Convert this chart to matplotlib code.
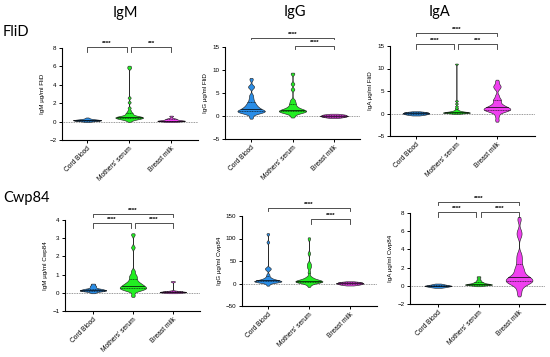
import numpy as np
import matplotlib.pyplot as plt

# ---------------------------------------------------------------------- data
groups = ["Cord Blood", "Mothers' serum", "Breast milk"]
colors = ["#2a8de6", "#22ee22", "#f040f0"]

# estimated sample values per group
igm_flid_cord = [0.0, 0.05, 0.08, 0.1, 0.1, 0.12, 0.12, 0.15, 0.15, 0.18, 0.2, 0.2, 0.22, 0.25, 0.3, 0.4]
igm_flid_moth = [0.05, 0.2, 0.25, 0.3, 0.3, 0.35, 0.4, 0.4, 0.4, 0.45, 0.5, 0.5, 0.5, 0.55, 0.6, 0.6,
                 0.7, 0.8, 0.9, 1.0, 1.2, 1.5, 2.1, 2.6, 5.8, 6.0]
igm_flid_milk = [0.0, 0.02, 0.05, 0.05, 0.08, 0.1, 0.1, 0.12, 0.15, 0.2, 0.25, 0.3, 0.35, 0.6]

igg_flid_cord = [-0.3, 0.5, 0.7, 0.8, 0.9, 1.0, 1.0, 1.1, 1.2, 1.3, 1.5, 1.6, 1.8, 2.0, 2.2, 2.5,
                 2.8, 3.2, 3.8, 4.5, 6.2, 6.5, 8.0]
igg_flid_moth = [-0.1, 0.5, 0.6, 0.8, 0.9, 1.0, 1.0, 1.1, 1.2, 1.3, 1.4, 1.5, 1.7, 1.9, 2.2, 2.6,
                 3.0, 3.5, 5.8, 7.0, 9.2]
igg_flid_milk = [-0.35, -0.25, -0.15, -0.05, 0.0, 0.05, 0.15, 0.25, 0.3, 0.4]

iga_flid_cord = [-0.35, -0.25, -0.15, -0.05, 0.0, 0.05, 0.15, 0.25, 0.3, 0.4]
iga_flid_moth = [0.0, 0.1, 0.1, 0.15, 0.2, 0.2, 0.2, 0.25, 0.3, 0.3, 0.35, 0.4, 0.5, 0.6, 0.8,
                 1.2, 1.6, 2.2, 2.8, 11.0]
iga_flid_milk = [-1.5, -0.5, 0.3, 0.5, 0.6, 0.8, 0.9, 1.0, 1.0, 1.1, 1.2, 1.4, 1.6, 1.8, 2.0, 2.5,
                 3.0, 3.2, 4.0, 5.5, 6.0, 6.3, 7.2]

igm_cwp_cord = [0.0, 0.05, 0.08, 0.1, 0.1, 0.12, 0.12, 0.15, 0.15, 0.15, 0.18, 0.2, 0.2, 0.22,
                0.25, 0.3, 0.35, 0.4, 0.48]
igm_cwp_moth = [-0.15, 0.1, 0.15, 0.2, 0.2, 0.25, 0.25, 0.3, 0.3, 0.35, 0.4, 0.4, 0.45, 0.5, 0.55,
                0.6, 0.7, 0.8, 0.9, 1.0, 1.2, 2.5, 3.2]
igm_cwp_milk = [0.0, 0.01, 0.02, 0.03, 0.05, 0.05, 0.06, 0.08, 0.1, 0.62]

igg_cwp_cord = [-3, 2, 3, 3, 4, 4, 5, 5, 5, 6, 6, 7, 8, 9, 10, 12, 15, 20, 30, 33, 35, 92, 110]
igg_cwp_moth = [-5, 2, 2, 3, 3, 4, 4, 5, 5, 6, 6, 7, 8, 10, 12, 15, 25, 35, 40, 45, 67, 100]
igg_cwp_milk = [-3.5, -2.5, -1.5, -0.5, 0.0, 0.5, 1.5, 2.5, 3, 4]

iga_cwp_cord = [-0.17, -0.12, -0.07, -0.02, 0.0, 0.02, 0.07, 0.12, 0.2]
iga_cwp_moth = [0.0, 0.05, 0.08, 0.1, 0.12, 0.15, 0.15, 0.18, 0.2, 0.2, 0.25, 0.3, 0.35, 0.4,
                0.5, 0.6, 0.8, 1.0]
iga_cwp_milk = [-0.9, -0.3, 0.2, 0.3, 0.4, 0.5, 0.5, 0.6, 0.7, 0.8, 0.9, 1.0, 1.2, 1.5, 1.8, 2.0,
                2.5, 3.0, 3.5, 5.5, 6.0, 7.3]

ylabels = ["IgM µg/ml FliD", "IgG µg/ml FliD", "IgA µg/ml FliD",
           "IgM µg/ml Cwp84", "IgG µg/ml Cwp84", "IgA µg/ml Cwp84"]
yticks = [[-2, 0, 2, 4, 6, 8], [-5, 0, 5, 10, 15], [-5, 0, 5, 10, 15],
          [-1, 0, 1, 2, 3, 4], [-50, 0, 50, 100, 150], [-2, 0, 2, 4, 6, 8]]
# significance: (group a, group b, stars)
sig = [[(1, 2, "****"), (2, 3, "***")],
       [(1, 3, "****"), (2, 3, "****")],
       [(1, 3, "****"), (1, 2, "****"), (2, 3, "***")],
       [(1, 3, "****"), (1, 2, "****"), (2, 3, "****")],
       [(1, 3, "****"), (2, 3, "****")],
       [(1, 3, "****"), (1, 2, "****"), (2, 3, "****")]]

panels = [
    [igm_flid_cord, igm_flid_moth, igm_flid_milk],
    [igg_flid_cord, igg_flid_moth, igg_flid_milk],
    [iga_flid_cord, iga_flid_moth, iga_flid_milk],
    [igm_cwp_cord, igm_cwp_moth, igm_cwp_milk],
    [igg_cwp_cord, igg_cwp_moth, igg_cwp_milk],
    [iga_cwp_cord, iga_cwp_moth, iga_cwp_milk],
]

# ---------------------------------------------------------------------- layout
W, H = 550, 357
# left, top, right, bottom in pixels, plus xlim
boxes = [(62, 48, 198, 140, (0.40, 3.64)),
         (225, 47, 360, 139, (0.37, 3.63)),
         (390, 46, 535, 136, (0.36, 3.94)),
         (65, 220, 200, 311, (0.30, 3.68)),
         (242, 216, 377, 306, (0.37, 3.66)),
         (410, 213, 545, 304, (0.31, 3.64))]
# bracket levels in data units: (low level, high level, drop)
brackets = [(8.1, None, 0.5),
            (15.2, 17.0, 0.6),
            (15.4, 17.9, 1.1),
            (3.84, 4.33, 0.28),
            (143, 168, 11),
            (8.1, 9.2, 0.55)]

TICK_FONT = ["Liberation Sans", "DejaVu Sans"]


def kde_profile(vals, span):
    v = np.asarray(vals, float)
    n = len(v)
    sd = v.std(ddof=1)
    q75, q25 = np.percentile(v, [75, 25])
    iqr = q75 - q25
    s = min(sd, iqr / 1.34) if iqr > 0 else sd
    bw = max(0.5 * 0.9 * s * n ** -0.2, span * 0.006)
    grid = np.linspace(v.min() - 0.8 * bw, v.max() + 0.8 * bw, 900)
    dens = np.exp(-0.5 * ((grid[:, None] - v[None, :]) / bw) ** 2).sum(1)
    dens = dens / dens.max()
    # taper the ends to a point
    dens[0] = dens[-1] = 0
    return grid, dens


fig = plt.figure(figsize=(W / 100, H / 100), dpi=100)

for i, (data, box) in enumerate(zip(panels, boxes)):
    l, t, r, b, xl = box
    ax = fig.add_axes([l / W, (H - b) / H, (r - l) / W, (b - t) / H])
    ticks = yticks[i]
    span = ticks[-1] - ticks[0]
    ax.axhline(0, color="#777777", ls=(0, (1, 1)), lw=0.6, zorder=0.5)
    half = 0.33
    for k, vals in enumerate(data):
        pos = k + 1
        y, d = kde_profile(vals, span)
        ax.fill_betweenx(y, pos - d * half, pos + d * half, facecolor=colors[k],
                         edgecolor="#2a2a2a", lw=0.45, zorder=2)
        for q, ls, lw in [(25, (0, (2, 1)), 0.4), (50, "-", 0.5), (75, (0, (2, 1)), 0.4)]:
            qy = np.percentile(vals, q)
            w = np.interp(qy, y, d) * half
            ax.plot([pos - w, pos + w], [qy, qy], color="black", ls=ls, lw=lw, zorder=3)

    ax.set_xlim(*xl)
    ax.set_ylim(ticks[0], ticks[-1])
    ax.set_yticks(ticks)
    ax.set_xticks([1, 2, 3])
    ax.set_xticklabels(groups, rotation=45, ha="right", rotation_mode="anchor",
                       family=TICK_FONT, fontsize=4.8)
    for lab in ax.get_yticklabels():
        lab.set_family(TICK_FONT)
        lab.set_fontsize(4.5)
    ax.tick_params(length=2.5, width=0.7, pad=1.5)
    for s in ["top", "right"]:
        ax.spines[s].set_visible(False)
    for s in ["left", "bottom"]:
        ax.spines[s].set_linewidth(0.8)
    ax.set_ylabel(ylabels[i], family=TICK_FONT, fontsize=4.5, labelpad=3)

    lo, hi, drop = brackets[i]
    for a, bb, stars in sig[i]:
        if bb - a == 2:
            yb, dr = hi, drop * 0.55
            x1, x2 = a, bb
        else:
            yb, dr = lo, drop
            x1 = a + (0.05 if a == 2 else 0.0)
            x2 = bb - (0.05 if bb == 2 else 0.0)
        ax.plot([x1, x1, x2, x2], [yb - dr, yb, yb, yb - dr], color="#333333",
                lw=0.6, clip_on=False, zorder=4)
        ax.text((x1 + x2) / 2, yb + span * 0.012, stars, ha="center", va="bottom",
                fontsize=4.5, family=TICK_FONT, fontweight="bold", clip_on=False)

TITLE_FONT = ["Lato", "DejaVu Sans"]
fig.text(125 / W, 1 - 13 / H, "IgM", ha="center", va="center", fontsize=10.5, family=TITLE_FONT)
fig.text(295 / W, 1 - 12 / H, "IgG", ha="center", va="center", fontsize=10.5, family=TITLE_FONT)
fig.text(440 / W, 1 - 12 / H, "IgA", ha="center", va="center", fontsize=10.5, family=TITLE_FONT)
fig.text(3 / W, 1 - 32 / H, "FliD", ha="left", va="center", fontsize=10.5, family=TITLE_FONT)
fig.text(3 / W, 1 - 198 / H, "Cwp84", ha="left", va="center", fontsize=10.5, family=TITLE_FONT)

fig.savefig("out.png", dpi=100)
